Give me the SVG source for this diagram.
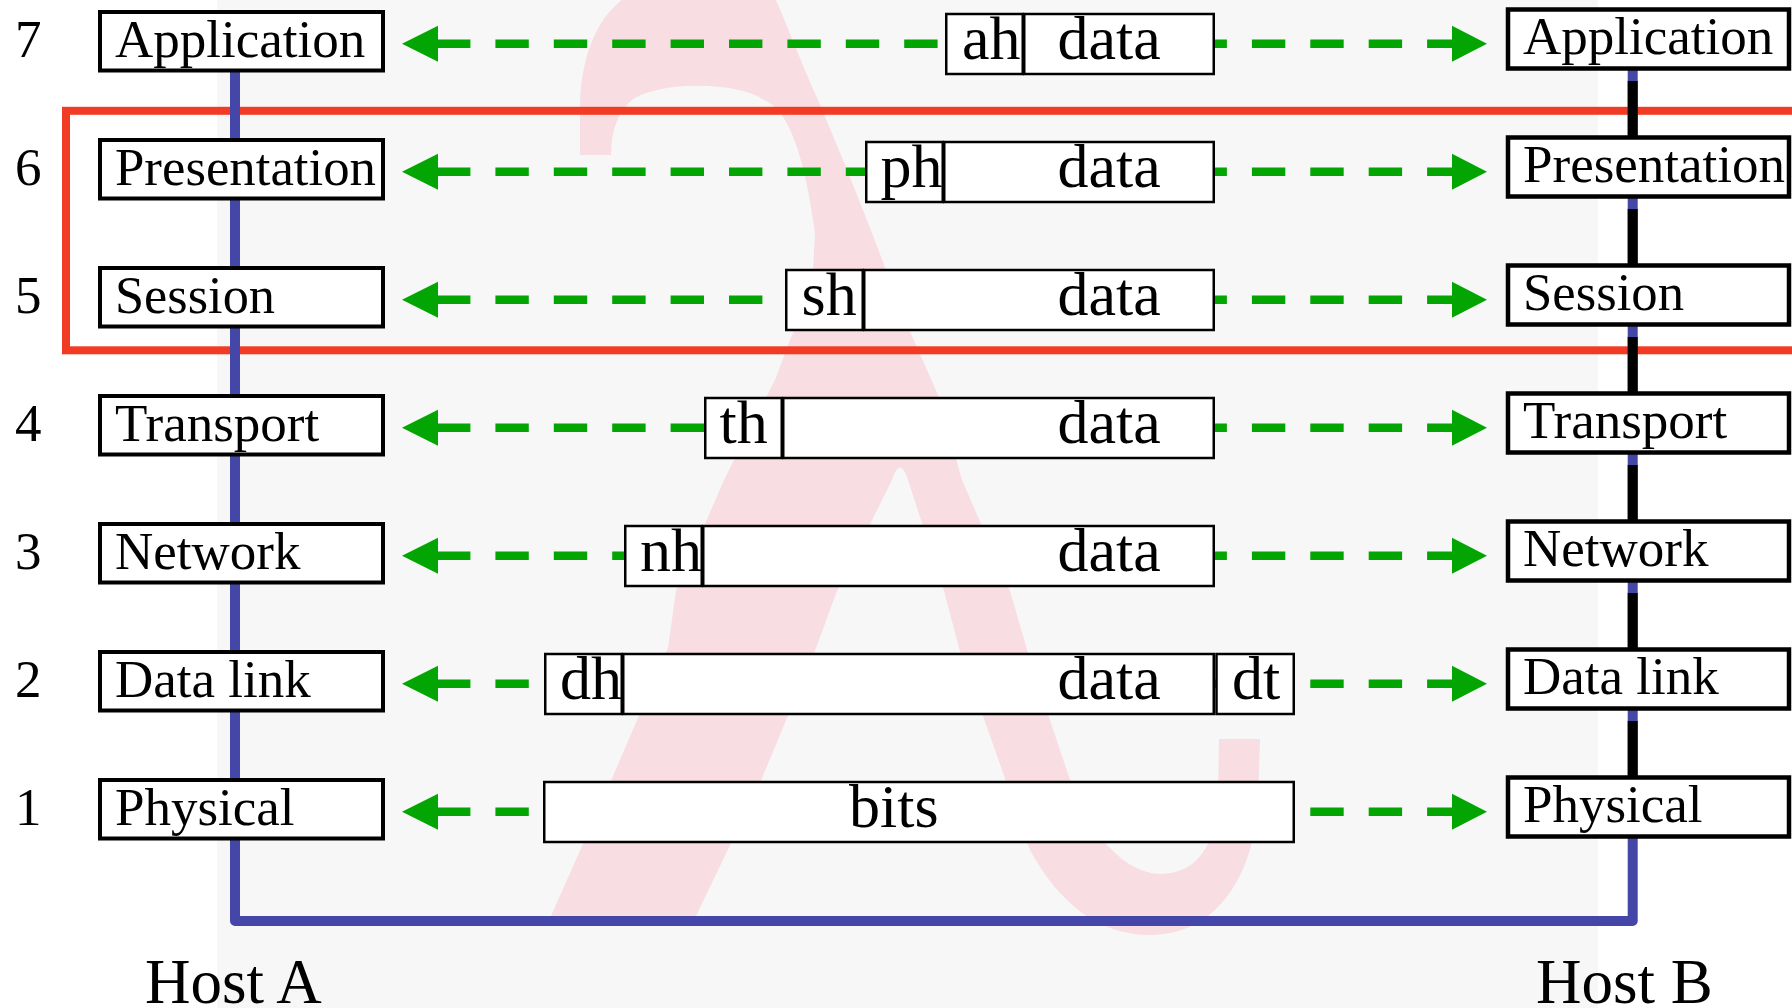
<svg xmlns="http://www.w3.org/2000/svg" width="1792" height="1008" viewBox="0 0 1792 1008">
<style>
.lay{fill:#fff;stroke:#000;stroke-width:4}
.layR{fill:#fff;stroke:#000;stroke-width:4.5}
.pk{fill:#fff;stroke:#000;stroke-width:2.5}
.t{font-family:"Liberation Serif","Times New Roman",serif;fill:#000}
.lt{font-size:53px}
.pt{font-size:62px}
.ht{font-size:63px}
.dash{stroke:#02a502;stroke-width:8.5;stroke-dasharray:33.4 25;fill:none}
.head{fill:#02a502}
.blk{stroke:#000;stroke-width:10}
</style>
<rect x="0" y="0" width="1792" height="1008" fill="#fff"/>
<rect x="217" y="0" width="1381" height="1008" fill="#f7f7f7"/>
<path id="lambda" fill="#f8dde2" d="M580,155 L580,110 C580,60 595,20 624,-2 L775,-2 C785,20 800,60 818,100 L846,167 L872,233 L905,320 L938,395 L962,480 L1010,591 L1030,660 L1071,783 C1090,830 1120,872 1160,874 C1200,874 1216,840 1218,800 L1219,739 L1260,739 L1258,800 C1255,870 1220,935 1150,935 C1100,935 1060,905 1030,850 L995,750 L959,648 L944,591 L908,480 Q900,455 892,480 L837,591 L816,648 L760,783 L696,916 L551,916 L610,783 L668,648 L676,591 L724,480 L775,380 L790,340 L812,290 L815,233 C805,160 790,110 764,100 C740,82 660,80 632,100 C618,112 611,130 611,155 Z"/>
<rect id="focus" x="66" y="110.8" width="1800" height="239.5" fill="none" stroke="#f23b24" stroke-width="8"/>
<g id="connectors">
<path d="M235,70 V921 H1632.7 V68" fill="none" stroke="#4447a8" stroke-width="10" stroke-linejoin="round"/>
<line class="blk" x1="1632.7" y1="81" x2="1632.7" y2="140"/>
<line class="blk" x1="1632.7" y1="209" x2="1632.7" y2="268"/>
<line class="blk" x1="1632.7" y1="337" x2="1632.7" y2="396"/>
<line class="blk" x1="1632.7" y1="465" x2="1632.7" y2="524"/>
<line class="blk" x1="1632.7" y1="593" x2="1632.7" y2="652"/>
<line class="blk" x1="1632.7" y1="721" x2="1632.7" y2="780"/>
<g id="arrows-left">
<line class="dash" x1="437" y1="43.8" x2="960" y2="43.8"/>
<line class="dash" x1="437" y1="171.8" x2="880" y2="171.8"/>
<line class="dash" x1="437" y1="299.8" x2="800" y2="299.8"/>
<line class="dash" x1="437" y1="427.8" x2="720" y2="427.8"/>
<line class="dash" x1="437" y1="555.8" x2="640" y2="555.8"/>
<line class="dash" x1="437" y1="683.8" x2="560" y2="683.8"/>
<line class="dash" x1="437" y1="811.8" x2="560" y2="811.8"/>
<polygon class="head" points="402,43.8 438,25.8 438,61.8"/>
<polygon class="head" points="402,171.8 438,153.8 438,189.8"/>
<polygon class="head" points="402,299.8 438,281.8 438,317.8"/>
<polygon class="head" points="402,427.8 438,409.8 438,445.8"/>
<polygon class="head" points="402,555.8 438,537.8 438,573.8"/>
<polygon class="head" points="402,683.8 438,665.8 438,701.8"/>
<polygon class="head" points="402,811.8 438,793.8 438,829.8"/>
</g>
<g id="arrows-right">
<line class="dash" x1="1076.7" y1="43.8" x2="1460" y2="43.8"/>
<line class="dash" x1="1076.7" y1="171.8" x2="1460" y2="171.8"/>
<line class="dash" x1="1076.7" y1="299.8" x2="1460" y2="299.8"/>
<line class="dash" x1="1076.7" y1="427.8" x2="1460" y2="427.8"/>
<line class="dash" x1="1076.7" y1="555.8" x2="1460" y2="555.8"/>
<line class="dash" x1="1076.7" y1="683.8" x2="1460" y2="683.8"/>
<line class="dash" x1="1076.7" y1="811.8" x2="1460" y2="811.8"/>
<polygon class="head" points="1487,43.8 1452,25.8 1452,61.8"/>
<polygon class="head" points="1487,171.8 1452,153.8 1452,189.8"/>
<polygon class="head" points="1487,299.8 1452,281.8 1452,317.8"/>
<polygon class="head" points="1487,427.8 1452,409.8 1452,445.8"/>
<polygon class="head" points="1487,555.8 1452,537.8 1452,573.8"/>
<polygon class="head" points="1487,683.8 1452,665.8 1452,701.8"/>
<polygon class="head" points="1487,811.8 1452,793.8 1452,829.8"/>
</g>
</g>
<g id="packet-7">
<rect class="pk" x="946.25" y="14" width="76.5" height="60"/>
<rect class="pk" x="1024.25" y="14" width="189.5" height="60"/>
<text class="t pt" x="962" y="58.5">ah</text>
<text class="t pt" x="1057.5" y="58.5">data</text>
</g>
<g id="packet-6">
<rect class="pk" x="866.25" y="142" width="76.5" height="60"/>
<rect class="pk" x="944.25" y="142" width="269.5" height="60"/>
<text class="t pt" x="880.5" y="186.5">ph</text>
<text class="t pt" x="1057.5" y="186.5">data</text>
</g>
<g id="packet-5">
<rect class="pk" x="786.25" y="270" width="76.5" height="60"/>
<rect class="pk" x="864.25" y="270" width="349.5" height="60"/>
<text class="t pt" x="801.5" y="314.5">sh</text>
<text class="t pt" x="1057.5" y="314.5">data</text>
</g>
<g id="packet-4">
<rect class="pk" x="705.25" y="398" width="76.5" height="60"/>
<rect class="pk" x="783.25" y="398" width="430.5" height="60"/>
<text class="t pt" x="719.5" y="442.5">th</text>
<text class="t pt" x="1057.5" y="442.5">data</text>
</g>
<g id="packet-3">
<rect class="pk" x="625.25" y="526" width="76.5" height="60"/>
<rect class="pk" x="703.25" y="526" width="510.5" height="60"/>
<text class="t pt" x="640" y="570.5">nh</text>
<text class="t pt" x="1057.5" y="570.5">data</text>
</g>
<g id="packet-2">
<rect class="pk" x="545.25" y="654" width="76.5" height="60"/>
<rect class="pk" x="623.25" y="654" width="590.5" height="60"/>
<rect class="pk" x="1216.5" y="654" width="77.25" height="60"/>
<text class="t pt" x="560" y="698.5">dh</text>
<text class="t pt" x="1057.5" y="698.5">data</text>
<text class="t pt" x="1232" y="698.5">dt</text>
</g>
<g id="packet-1">
<rect class="pk" x="544.25" y="782" width="749.5" height="60"/>
<text class="t pt" x="849" y="826.5">bits</text>
</g>
<g id="hostA">
<g id="a7"><rect class="lay" x="100" y="12" width="283" height="58.5"/><text class="t lt" x="115" y="56.5">Application</text></g>
<g id="a6"><rect class="lay" x="100" y="140" width="283" height="58.5"/><text class="t lt" x="115" y="184.5" textLength="261" lengthAdjust="spacingAndGlyphs">Presentation</text></g>
<g id="a5"><rect class="lay" x="100" y="268" width="283" height="58.5"/><text class="t lt" x="115" y="312.5" textLength="160" lengthAdjust="spacingAndGlyphs">Session</text></g>
<g id="a4"><rect class="lay" x="100" y="396" width="283" height="58.5"/><text class="t lt" x="115" y="440.5">Transport</text></g>
<g id="a3"><rect class="lay" x="100" y="524" width="283" height="58.5"/><text class="t lt" x="115" y="568.5">Network</text></g>
<g id="a2"><rect class="lay" x="100" y="652" width="283" height="58.5"/><text class="t lt" x="115" y="696.5">Data link</text></g>
<g id="a1"><rect class="lay" x="100" y="780" width="283" height="58.5"/><text class="t lt" x="115" y="824.5">Physical</text></g>
</g>
<g id="hostB">
<g id="b7"><rect class="layR" x="1508" y="9.5" width="281" height="59"/><text class="t lt" x="1523" y="53.5">Application</text></g>
<g id="b6"><rect class="layR" x="1508" y="137.5" width="281" height="59"/><text class="t lt" x="1523" y="181.5" textLength="262" lengthAdjust="spacingAndGlyphs">Presentation</text></g>
<g id="b5"><rect class="layR" x="1508" y="265.5" width="281" height="59"/><text class="t lt" x="1523" y="309.5" textLength="161" lengthAdjust="spacingAndGlyphs">Session</text></g>
<g id="b4"><rect class="layR" x="1508" y="393.5" width="281" height="59"/><text class="t lt" x="1523" y="437.5">Transport</text></g>
<g id="b3"><rect class="layR" x="1508" y="521.5" width="281" height="59"/><text class="t lt" x="1523" y="565.5">Network</text></g>
<g id="b2"><rect class="layR" x="1508" y="649.5" width="281" height="59"/><text class="t lt" x="1523" y="693.5">Data link</text></g>
<g id="b1"><rect class="layR" x="1508" y="777.5" width="281" height="59"/><text class="t lt" x="1523" y="821.5">Physical</text></g>
</g>
<g id="numbers">
<text class="t lt" x="15" y="56.5">7</text>
<text class="t lt" x="15" y="184.5">6</text>
<text class="t lt" x="15" y="312.5">5</text>
<text class="t lt" x="15" y="440.5">4</text>
<text class="t lt" x="15" y="568.5">3</text>
<text class="t lt" x="15" y="696.5">2</text>
<text class="t lt" x="15" y="824.5">1</text>
</g>
<g id="hosts">
<text class="t ht" x="145" y="1003">Host A</text>
<text class="t ht" x="1536" y="1003">Host B</text>
</g>
</svg>
